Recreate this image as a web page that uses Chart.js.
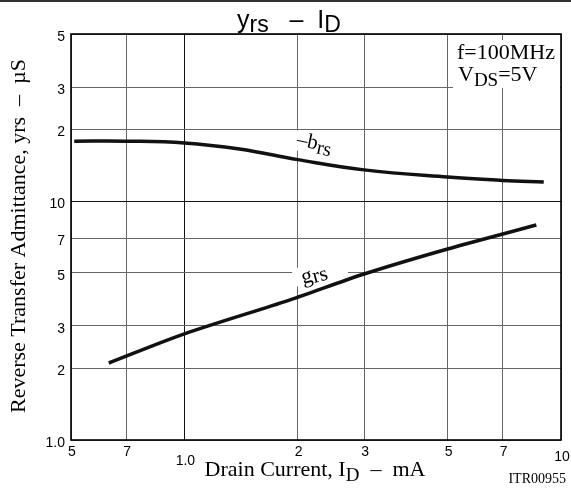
<!DOCTYPE html>
<html><head><meta charset="utf-8">
<script src="https://cdn.jsdelivr.net/npm/chart.js@4"></script>
<style>html,body{margin:0;padding:0;background:#fff;}#wrap{width:571px;height:492px;position:relative;}</style>
</head><body><div id="wrap"><canvas id="c" width="571" height="492"></canvas></div>
<script>
// Data (drain current in mA, admittance in µS)
const xTicks = [0.5, 0.7, 1, 2, 3, 5, 7, 10];
const xTickLabels = ['5', '7', '1.0', '2', '3', '5', '7', '10'];
const yTicks = [1, 2, 3, 5, 7, 10, 20, 30, 50];
const yTickLabels = ['1.0', '2', '3', '5', '7', '10', '2', '3', '5'];
const brsCurrent = [0.51, 0.70, 1.0, 1.4, 2.0, 3.0, 5.0, 7.0, 9.0];
const brsValues  = [17.8, 17.8, 17.5, 16.5, 14.9, 13.5, 12.6, 12.2, 12.0];
const grsCurrent = [0.63, 1.0, 1.9, 3.0, 5.0, 8.6];
const grsValues  = [2.10, 2.78, 3.85, 4.95, 6.30, 7.94];

const SERIF = '"Liberation Serif", "Times New Roman", serif';
const SANS = '"Liberation Sans", Arial, sans-serif';

function subText(ctx, parts, x, y, align) {
  let w = 0;
  parts.forEach(p => { ctx.font = p[1] + 'px ' + p[3]; w += ctx.measureText(p[0]).width; });
  let cx = align === 'center' ? x - w / 2 : x;
  ctx.textAlign = 'left';
  parts.forEach(p => { ctx.font = p[1] + 'px ' + p[3]; ctx.fillText(p[0], cx, y + p[2]); cx += ctx.measureText(p[0]).width; });
  return w;
}

const deco = {
  id: 'deco',
  beforeDatasetsDraw(chart) {
    const ctx = chart.ctx;
    ctx.save();
    ctx.fillStyle = '#fff';
    ctx.fillRect(453, 40, 107, 48);
    ctx.save(); ctx.translate(318, 148); ctx.rotate(12 * Math.PI / 180);
    ctx.fillRect(-24, -13, 48, 20); ctx.restore();
    ctx.save(); ctx.translate(320, 272); ctx.rotate(-15 * Math.PI / 180);
    ctx.fillRect(-27, -10, 54, 18); ctx.restore();
    ctx.restore();
  },
  afterDraw(chart) {
    const ctx = chart.ctx, a = chart.chartArea, xs = chart.scales.x, ys = chart.scales.y;
    ctx.save();
    ctx.fillStyle = '#333';
    ctx.fillRect(0, 0, 571, 2);
    ctx.strokeStyle = '#000'; ctx.lineWidth = 1.6;
    ctx.strokeRect(a.left, a.top, a.right - a.left, a.bottom - a.top);
    ctx.fillStyle = '#000';
    // y tick labels
    ctx.font = '14px ' + SANS; ctx.textAlign = 'right'; ctx.textBaseline = 'middle';
    yTicks.forEach((v, i) => ctx.fillText(yTickLabels[i], a.left - 6, ys.getPixelForValue(v) + 3));
    // x tick labels
    ctx.textAlign = 'center'; ctx.textBaseline = 'top';
    xTicks.forEach((v, i) => {
      ctx.fillText(xTickLabels[i], xs.getPixelForValue(v) + 1, a.bottom + (v === 1 ? 14 : v === 10 ? 10 : 5));
    });
    ctx.textBaseline = 'alphabetic';
    // title
    subText(ctx, [['y', 25, 0, SANS], ['rs', 23, 4, SANS], ['   \u2013  ', 25, 0, SANS], ['I', 25, 0, SANS], ['D', 23, 4, SANS]], 289, 28, 'center');
    // x title
    subText(ctx, [['Drain Current, I', 22, 0, SERIF], ['D', 19, 5, SERIF], ['  \u2013  mA', 22, 0, SERIF]], 315, 476, 'center');
    // ITR
    ctx.font = '14px ' + SERIF; ctx.textAlign = 'right';
    ctx.fillText('ITR00955', 566, 483);
    // y title
    ctx.save(); ctx.translate(25, 236); ctx.rotate(-Math.PI / 2);
    ctx.font = '22px ' + SERIF; ctx.textAlign = 'center';
    ctx.fillText('Reverse Transfer Admittance, yrs  \u2013  \u00b5S', 0, 0);
    ctx.restore();
    // annotation
    ctx.textAlign = 'left';
    ctx.font = '22px ' + SERIF; ctx.fillText('f=100MHz', 457, 59);
    subText(ctx, [['V', 22, 0, SERIF], ['DS', 19, 5, SERIF], ['=5V', 22, 0, SERIF]], 458, 81, 'left');
    // curve labels
    ctx.save(); ctx.translate(296, 145); ctx.rotate(12 * Math.PI / 180);
    subText(ctx, [['\u2013b', 21, 0, SERIF], ['rs', 20, 4, SERIF]], 0, 0, 'left');
    ctx.restore();
    ctx.save(); ctx.translate(303, 284); ctx.rotate(-15 * Math.PI / 180);
    subText(ctx, [['g', 22, 0, SERIF], ['rs', 21, 2, SERIF]], 0, 0, 'left');
    ctx.restore();
    ctx.restore();
  }
};

function gridColor(decade) {
  return (c) => (c.tick && c.tick.value === decade) ? '#111' : '#666';
}

new Chart(document.getElementById('c'), {
  type: 'line',
  data: {
    datasets: [
      { label: '-brs', data: brsCurrent.map((x, i) => ({ x, y: brsValues[i] })), borderColor: '#111', borderWidth: 3.5, pointRadius: 0, tension: 0.4, fill: false },
      { label: 'grs', data: grsCurrent.map((x, i) => ({ x, y: grsValues[i] })), borderColor: '#111', borderWidth: 3.5, pointRadius: 0, tension: 0.3, fill: false }
    ]
  },
  options: {
    responsive: false, animation: false, devicePixelRatio: 1,
    layout: { padding: { left: 71, right: 10, top: 34, bottom: 52 } },
    plugins: { legend: { display: false }, tooltip: { enabled: false }, title: { display: false } },
    scales: {
      x: {
        type: 'logarithmic', min: 0.5, max: 10,
        afterBuildTicks: (s) => { s.ticks = xTicks.map(v => ({ value: v })); },
        ticks: { display: false },
        grid: { color: gridColor(1), lineWidth: 1, drawTicks: false },
        border: { display: false }
      },
      y: {
        type: 'logarithmic', min: 1, max: 50,
        afterBuildTicks: (s) => { s.ticks = yTicks.map(v => ({ value: v })); },
        ticks: { display: false },
        grid: { color: gridColor(10), lineWidth: 1, drawTicks: false },
        border: { display: false }
      }
    }
  },
  plugins: [deco]
});
</script></body></html>
